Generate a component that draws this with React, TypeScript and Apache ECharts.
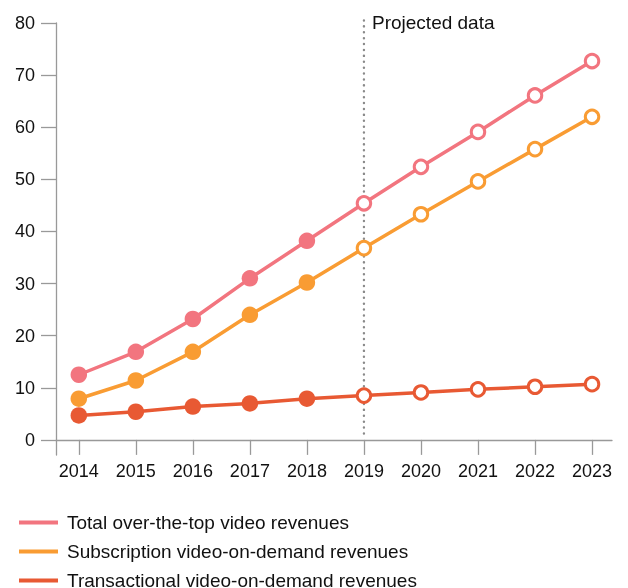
import React, { useEffect, useRef } from "react";
import * as echarts from "echarts";

const years = [2014, 2015, 2016, 2017, 2018, 2019, 2020, 2021, 2022, 2023];
const totalOtt = [12.5, 16.9, 23.2, 31.0, 38.2, 45.4, 52.4, 59.1, 66.1, 72.7];
const subscriptionVod = [7.9, 11.4, 16.9, 24.0, 30.2, 36.8, 43.3, 49.6, 55.8, 62.0];
const transactionalVod = [4.7, 5.4, 6.4, 7.0, 7.9, 8.5, 9.1, 9.7, 10.2, 10.7];
const yTicks = [0, 10, 20, 30, 40, 50, 60, 70, 80];
const projectionStart = 2019;
const projectionLineRange = [80.5, 0.6];

const seriesNames = [
  "Total over-the-top video revenues",
  "Subscription video-on-demand revenues",
  "Transactional video-on-demand revenues",
];
const seriesColors = ["#F2757F", "#F99C33", "#E85933"];

const FONT = "'Liberation Sans', Arial, sans-serif";

function buildData(values: number[], color: string) {
  return values.map((v, i) => {
    const projected = years[i] >= projectionStart;
    return {
      value: [years[i], v],
      symbolSize: projected ? 13.5 : 16.5,
      itemStyle: projected
        ? { color: "#ffffff", borderColor: color, borderWidth: 3 }
        : { color: color, borderWidth: 0 },
    };
  });
}

export default function App() {
  const ref = useRef<HTMLDivElement>(null);
  useEffect(() => {
    if (!ref.current) return;
    const chart = echarts.init(ref.current, null, { renderer: "svg" });
    const valuesList = [totalOtt, subscriptionVod, transactionalVod];
    const series: any[] = [
      {
        name: "projection",
        type: "line",
        data: projectionLineRange.map((v) => [projectionStart, v]),
        symbol: "none",
        silent: true,
        clip: false,
        z: 1,
        lineStyle: { color: "#8a8a8a", type: [0.1, 5.8], width: 2.4, cap: "round" },
      },
    ];
    valuesList.forEach((vals, idx) => {
      series.push({
        name: seriesNames[idx],
        type: "line",
        data: buildData(vals, seriesColors[idx]),
        symbol: "circle",
        showAllSymbol: true,
        lineStyle: { color: seriesColors[idx], width: 3.5 },
        itemStyle: { color: seriesColors[idx] },
        z: 10 - idx,
      });
    });
    const legends = seriesNames.map((name, idx) => ({
      data: [name],
      orient: "horizontal",
      left: 14,
      top: 508 + idx * 29,
      icon: "rect",
      itemWidth: 39,
      itemHeight: 4,
      textStyle: { fontFamily: FONT, fontSize: 19, color: "#111", padding: [0, 0, 0, 4], lineHeight: 19 },
    }));
    chart.setOption({
      animation: false,
      textStyle: { fontFamily: FONT },
      grid: { left: 56, right: 16, top: 23, bottom: 133 },
      legend: legends,
      xAxis: {
        type: "value",
        min: 2013.6,
        max: 2023.35,
        axisLine: { onZero: true, lineStyle: { color: "#999", width: 1.3 } },
        axisTick: { show: true, customValues: years, length: 15, lineStyle: { color: "#999", width: 1.3 } },
        axisLabel: { customValues: years, margin: 7, fontSize: 18, color: "#111", fontFamily: FONT, formatter: (v: number) => String(v) },
        splitLine: { show: false },
      },
      yAxis: {
        type: "value",
        min: -2.9,
        max: 80,
        axisLine: { show: true, onZero: false, lineStyle: { color: "#999", width: 1.3 } },
        axisTick: { show: true, customValues: yTicks, length: 15, lineStyle: { color: "#999", width: 1.3 } },
        axisLabel: { customValues: yTicks, margin: 21, fontSize: 18, color: "#111", fontFamily: FONT },
        splitLine: { show: false },
      },
      graphic: [
        {
          type: "text",
          x: 372,
          y: 22,
          style: { text: "Projected data", font: `19px ${FONT}`, fill: "#111", textVerticalAlign: "middle" },
        },
      ],
      series,
    });
    return () => chart.dispose();
  }, []);
  return <div ref={ref} style={{ position: "fixed", left: 0, top: 0, width: 628, height: 588 }} />;
}
